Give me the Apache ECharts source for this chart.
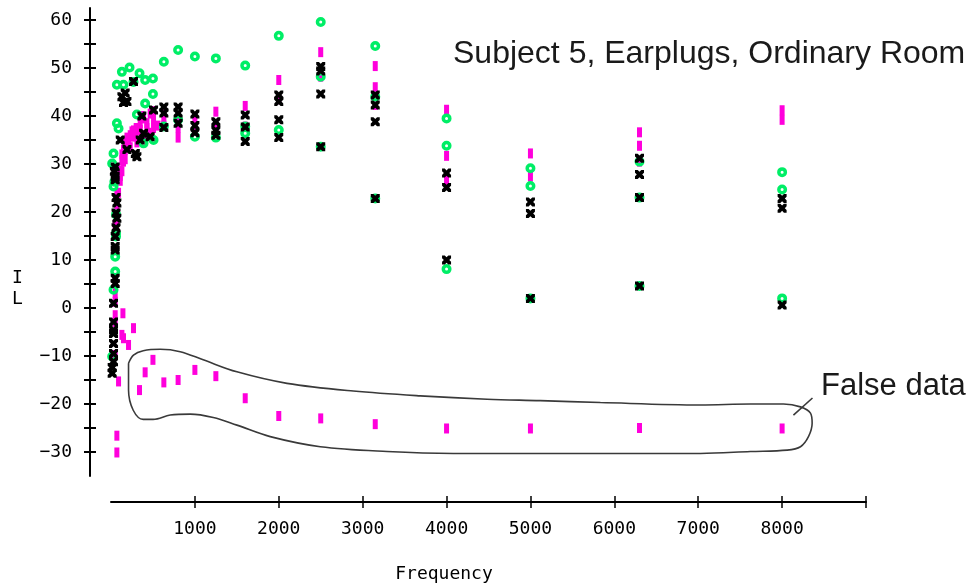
<!DOCTYPE html>
<html>
<head>
<meta charset="utf-8">
<script src="https://cdn.jsdelivr.net/npm/echarts@6/dist/echarts.min.js"></script>
<style>
  html, body { margin: 0; padding: 0; background: #fff; }
  #chart { width: 975px; height: 588px; }
</style>
</head>
<body>
<div id="chart"></div>
<script>
// tick values / labels
var xTicks = [1000, 2000, 3000, 4000, 5000, 6000, 7000, 8000, 9000]
var xLabels = [1000, 2000, 3000, 4000, 5000, 6000, 7000, 8000]
var yTicks = [-30, -25, -20, -15, -10, -5, 0, 5, 10, 15, 20, 25, 30, 35, 40, 45, 50, 55, 60]
var yLabels = [-30, -20, -10, 0, 10, 20, 30, 40, 50, 60]

// magenta bars [frequency, IL]
var barPts = [
  [30, -10.8], [50, -9.8], [50, -2.9], [50, -1.5], [50, 1.3], [50, 3.1], [142, -1.1], [268, -4.2],
  [130, -5.6], [149, -6.3], [209, -7.7], [90, -15.3], [70, -26.6], [70, -30.1],
  [70, 15.6], [70, 18.3], [50, 17.3], [70, 21], [70, 23.9], [90, 26.7], [110, 28.7], [130, 30.8],
  [169, 32.9], [209, 34.3], [268, 35.7], [348, 37.1], [428, 38.5], [507, 39.5],
  [110, 26.5], [130, 28.5], [149, 30.5], [169, 31], [190, 35.5], [229, 33.5], [250, 36.8], [300, 37.5],
  [309, 34.5], [368, 40], [388, 36], [450, 36.5], [507, 41], [560, 38],
  [90, 24], [110, 27.5], [130, 32], [149, 33], [169, 34.5], [190, 33.5], [229, 36], [268, 37],
  [300, 36], [348, 38.5], [388, 39.5], [428, 37.5], [467, 40.5], [507, 37.5],
  [630, 41], [630, 39.5], [630, 38], [800, 39.5], [800, 37.5], [800, 35.5], [1000, 39.5], [1000, 37.5],
  [1250, 40.9], [1250, 37.8], [1600, 42.1], [1600, 37.8], [2000, 47.5], [2000, 43.5], [2500, 53.3],
  [2500, 48.2], [3150, 50.4], [3150, 46], [3150, 42.3], [4000, 41.3], [4000, 31.7], [4000, 26.7],
  [5000, 32.2], [5000, 27.4], [6300, 36.6], [6300, 33.8], [6300, 30.5], [8000, 41.2], [8000, 39.2],
  // false data
  [500, -10.8], [407, -13.4], [340, -17.1], [630, -15.5], [800, -15.0], [1000, -12.9], [1250, -14.2],
  [1600, -18.8], [2000, -22.5], [2500, -23.0], [3150, -24.2], [4000, -25.1], [5000, -25.1],
  [6300, -25.0], [8000, -25.1]
]

// green rings
var circlePts = [
  [14, -10.1], [30, 3.8], [50, 7.6], [50, 10.7], [60, 14.9], [60, 15.6], [60, 19.5], [30, 25.3],
  [40, 26.3], [14, 30.1], [30, 32.2], [70, 38.5], [90, 37.4],
  [70, 46.5], [130, 49.2], [149, 46.5], [221, 50.1], [268, 47.1], [340, 48.9], [407, 47.5], [500, 47.8],
  [500, 44.6], [407, 42.6], [309, 40.3], [388, 34.3], [507, 35], [630, 37.8], [630, 51.3], [800, 53.75],
  [800, 39.2], [1000, 52.4], [1000, 35.7], [1250, 52], [1250, 35.5], [1600, 50.5], [1600, 37.8],
  [1600, 36.4], [2000, 56.7], [2000, 37.1], [2500, 59.6], [2500, 48.2], [2500, 33.6], [3150, 54.6],
  [3150, 44], [3150, 22.8], [4000, 39.5], [4000, 33.8], [4000, 8.1], [5000, 29.1], [5000, 25.4],
  [5000, 2.0], [6300, 30.5], [6300, 23.0], [6300, 4.6], [8000, 28.3], [8000, 24.7], [8000, 2.0]
]

// black crosses
var crossPts = [
  [14, -13.6], [14, -12.4], [30, -11.2], [30, -9.5], [30, -7.4], [30, -5.3], [30, -4.6], [30, -2.9],
  [30, 1.0], [50, 5.1], [50, 6.2], [50, 12.1], [50, 12.8], [50, 14.9], [60, 16.7], [70, 18.7],
  [60, 19.8], [70, 21.9], [60, 23], [50, 26.7], [50, 27.4], [40, 28.5], [50, 29.4],
  [110, 35], [190, 33], [290, 32.2], [309, 31.5], [388, 36.4], [348, 35],
  [368, 40], [467, 35.7], [507, 41.25], [630, 41.9], [630, 40.6], [630, 37.6],
  [800, 41.9], [800, 40.6], [800, 38.5],
  [130, 44], [169, 44.8], [190, 43], [149, 42.8], [268, 47.2],
  [1000, 40.4], [1000, 38], [1000, 36.5], [1250, 38.8], [1250, 37], [1250, 36], [1600, 40.2],
  [1600, 37.7], [1600, 34.7], [2000, 44.4], [2000, 43], [2000, 39.2], [2000, 35.5], [2500, 50.3],
  [2500, 49.4], [2500, 44.6], [2500, 33.6], [3150, 44.4], [3150, 42.3], [3150, 38.8], [3150, 22.8],
  [4000, 28.1], [4000, 25.1], [4000, 10], [5000, 22.1], [5000, 19.7], [5000, 2.0], [6300, 31.2],
  [6300, 27.8], [6300, 23.0], [6300, 4.6], [8000, 22.8], [8000, 20.8], [8000, 0.6]
]

// hand drawn loop round the false data, and its pointer
var falseLoop = [
  [209, -11.5], [268, -9.8], [384, -8.9], [587, -8.6], [825, -9.1], [1099, -10.8], [1501, -13.3],
  [2098, -15.7], [2888, -17.3], [3686, -18.3], [4483, -19.0], [5118, -19.3], [5834, -19.7],
  [7027, -20.2], [7623, -20.0], [8016, -20.0], [8219, -20.6], [8338, -21.9], [8358, -24.0],
  [8314, -26.8], [8219, -28.9], [8060, -29.6], [7623, -29.9], [7027, -30.3], [5118, -30.3],
  [4081, -30.3], [3290, -29.9], [2495, -28.9], [1898, -26.8], [1501, -24.4], [1219, -22.8],
  [944, -22.1], [706, -22.3], [503, -23.2], [384, -23.2], [265, -21.3], [209, -17.1], [209, -11.5]
]
var pointerLine = [[8135, -22.3], [8362, -18.75]]

var monoFont = '"DejaVu Sans Mono", monospace'
var crossPath = 'path://M0,0H3L5,2L7,0H10V3L8,5L10,7V10H7L5,8L3,10H0V7L2,5L0,3Z'

var chart = echarts.init(document.getElementById('chart'))

function plainLabel(v) {
  return String(v).replace('-', '\u2212')
}

function xAxisDef(inside) {
  return {
    type: 'value', min: 0, max: 9000, position: 'bottom', offset: 26,
    axisLine: { show: !inside, onZero: false, lineStyle: { color: '#000', width: 2 } },
    axisTick: { show: true, inside: inside, length: 6, customValues: xTicks, lineStyle: { color: '#000', width: 1.5 } },
    axisLabel: { show: !inside, customValues: xLabels, formatter: plainLabel, margin: 18, color: '#000', fontFamily: monoFont, fontSize: 18 },
    splitLine: { show: false }
  }
}
function yAxisDef(inside) {
  return {
    type: 'value', min: -35, max: 62.5, position: 'left', offset: 21,
    axisLine: { show: !inside, onZero: false, lineStyle: { color: '#000', width: 2 } },
    axisTick: { show: true, inside: inside, length: 6, customValues: yTicks, lineStyle: { color: '#000', width: 2 } },
    axisLabel: { show: !inside, customValues: yLabels, formatter: plainLabel, margin: 18, color: '#000', fontFamily: monoFont, fontSize: 18 },
    splitLine: { show: false }
  }
}

chart.setOption({
  animation: false,
  backgroundColor: '#fff',
  grid: { left: 111, right: 109, top: 8, bottom: 112 },
  xAxis: [xAxisDef(false), xAxisDef(true)],
  yAxis: [yAxisDef(false), yAxisDef(true)],
  graphic: [
    { type: 'text', left: 453, top: 38, style: { text: 'Subject 5, Earplugs, Ordinary Room', font: '32px "Liberation Sans", Arial, sans-serif', fill: '#1a1a1a' } },
    { type: 'text', left: 821, top: 371, style: { text: 'False data', font: '31px "Liberation Sans", Arial, sans-serif', fill: '#1a1a1a' } },
    { type: 'text', x: 444, y: 574, style: { text: 'Frequency', font: '18px "DejaVu Sans Mono", monospace', fill: '#000', align: 'center', verticalAlign: 'middle' } },
    { type: 'text', x: 17.5, y: 288.5, style: { text: 'I\nL', font: '18px "DejaVu Sans Mono", monospace', lineHeight: 21, fill: '#000', align: 'center', verticalAlign: 'middle' } }
  ],
  series: [
    {
      type: 'line', data: falseLoop, smooth: 0.35, symbol: 'none', silent: true,
      lineStyle: { color: '#3a3a3a', width: 1.6 }, z: 1
    },
    {
      type: 'line', data: pointerLine, symbol: 'none', silent: true,
      lineStyle: { color: '#3a3a3a', width: 1.6 }, z: 1
    },
    {
      type: 'scatter', data: barPts, symbol: 'rect', symbolSize: [5, 10],
      itemStyle: { color: '#ff00dc', opacity: 1 }, emphasis: { disabled: true }, z: 2
    },
    {
      type: 'scatter', data: circlePts, symbol: 'circle', symbolSize: 6.5,
      itemStyle: { color: 'rgba(0,0,0,0)', borderColor: '#00ee66', borderWidth: 3.5, opacity: 1 },
      emphasis: { disabled: true }, z: 3
    },
    {
      type: 'scatter', data: crossPts, symbol: crossPath, symbolSize: 9,
      itemStyle: { color: '#000', opacity: 1 }, emphasis: { disabled: true }, z: 4
    }
  ]
})
</script>
</body>
</html>
